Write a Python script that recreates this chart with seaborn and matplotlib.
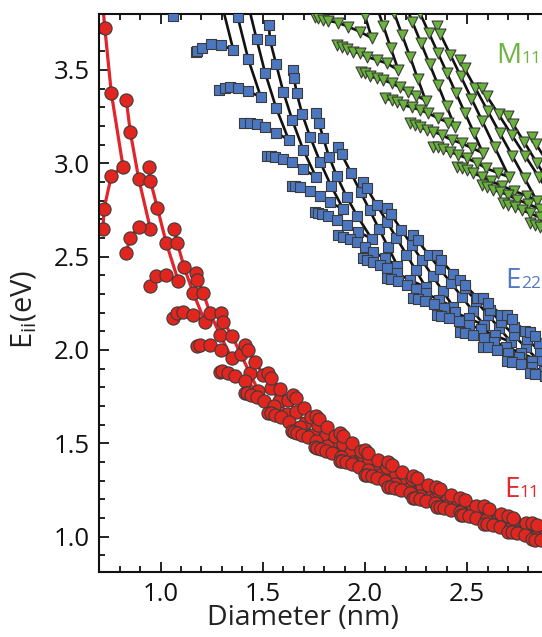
import numpy as np
import pandas as pd
import matplotlib
matplotlib.use("Agg")
import matplotlib.pyplot as plt
import seaborn as sns
from matplotlib.ticker import MultipleLocator

# ---------------------------------------------------------------------------
# Optical transition energies E_ii (eV) versus tube diameter (nm).
# Each family is a "V": an upper branch running from its small-diameter end
# down to the near-armchair vertex, and a lower branch from the same
# small-diameter end along the bottom to that vertex.
# ---------------------------------------------------------------------------

# --- E11 (red circles) -----------------------------------------------------
e11_upper_d = [
    [0.700, 0.727, 0.759, 0.816],
    [0.832, 0.852, 0.893, 0.950],
    [0.942, 0.950, 0.984, 1.028, 1.086],
    [1.066, 1.082, 1.114, 1.160, 1.217],
    [1.175, 1.180, 1.209, 1.242, 1.291, 1.348],
    [1.296, 1.307, 1.351, 1.392, 1.436, 1.478],
    [1.413, 1.427, 1.464, 1.503, 1.540, 1.579, 1.618],
    [1.527, 1.542, 1.582, 1.624, 1.664, 1.706, 1.748],
    [1.649, 1.663, 1.700, 1.736, 1.771, 1.808, 1.842, 1.879],
    [1.760, 1.775, 1.815, 1.855, 1.892, 1.932, 1.969, 2.009],
    [1.878, 1.894, 1.938, 1.981, 2.022, 2.066, 2.106, 2.150],
    [2.000, 2.017, 2.064, 2.110, 2.154, 2.200, 2.244, 2.290],
    [2.114, 2.132, 2.182, 2.231, 2.277, 2.326, 2.372, 2.421],
    [2.236, 2.255, 2.307, 2.358, 2.406, 2.457, 2.506, 2.557],
    [2.347, 2.368, 2.423, 2.478, 2.530, 2.585, 2.637, 2.692],
    [2.465, 2.487, 2.544, 2.602, 2.656, 2.714, 2.768, 2.826],
    [2.584, 2.607, 2.667, 2.727, 2.783, 2.843, 2.899, 2.959],
    [2.701, 2.724, 2.787, 2.849, 2.907, 2.969],
    [2.816, 2.840, 2.905, 2.970],
]
e11_upper_E = [
    [4.050, 3.725, 3.375, 2.982],
    [3.339, 3.166, 2.916, 2.648],
    [2.982, 2.907, 2.761, 2.572, 2.371],
    [2.648, 2.572, 2.446, 2.304, 2.152],
    [2.411, 2.375, 2.304, 2.197, 2.081, 1.956],
    [2.197, 2.152, 2.072, 1.977, 1.877, 1.782],
    [2.027, 2.001, 1.935, 1.864, 1.798, 1.727, 1.657],
    [1.875, 1.852, 1.792, 1.729, 1.670, 1.607, 1.544],
    [1.759, 1.741, 1.691, 1.642, 1.596, 1.546, 1.500, 1.451],
    [1.647, 1.630, 1.585, 1.540, 1.498, 1.452, 1.410, 1.365],
    [1.557, 1.541, 1.499, 1.457, 1.418, 1.376, 1.336, 1.294],
    [1.465, 1.450, 1.411, 1.372, 1.336, 1.297, 1.260, 1.221],
    [1.397, 1.383, 1.345, 1.308, 1.272, 1.235, 1.200, 1.162],
    [1.325, 1.312, 1.277, 1.242, 1.209, 1.175, 1.142, 1.107],
    [1.268, 1.255, 1.222, 1.189, 1.157, 1.124, 1.092, 1.059],
    [1.209, 1.197, 1.166, 1.135, 1.106, 1.075, 1.046, 1.015],
    [1.161, 1.150, 1.120, 1.090, 1.061, 1.031, 1.003, 0.973],
    [1.111, 1.100, 1.071, 1.042, 1.015, 0.986],
    [1.075, 1.064, 1.034, 1.005],
]
e11_lower_d = [
    [0.718, 0.723, 0.759, 0.816],
    [0.832, 0.849, 0.893, 0.950],
    [0.947, 0.979, 1.028, 1.086],
    [1.062, 1.079, 1.111, 1.160, 1.217],
    [1.177, 1.193, 1.242, 1.296, 1.348],
    [1.291, 1.302, 1.328, 1.366, 1.414, 1.478],
    [1.413, 1.423, 1.442, 1.470, 1.507, 1.557, 1.618],
    [1.527, 1.538, 1.558, 1.589, 1.629, 1.682, 1.748],
    [1.641, 1.651, 1.667, 1.691, 1.722, 1.760, 1.812, 1.879],
    [1.755, 1.765, 1.783, 1.808, 1.841, 1.882, 1.938, 2.009],
    [1.878, 1.889, 1.908, 1.935, 1.970, 2.014, 2.074, 2.150],
    [2.000, 2.012, 2.032, 2.061, 2.099, 2.145, 2.209, 2.290],
    [2.114, 2.126, 2.148, 2.178, 2.218, 2.268, 2.335, 2.421],
    [2.233, 2.246, 2.269, 2.301, 2.343, 2.395, 2.466, 2.557],
    [2.351, 2.365, 2.389, 2.423, 2.467, 2.522, 2.597, 2.692],
    [2.468, 2.482, 2.507, 2.543, 2.590, 2.647, 2.726, 2.826],
    [2.584, 2.599, 2.625, 2.663, 2.712, 2.772, 2.854, 2.959],
    [2.701, 2.717, 2.744, 2.783, 2.833, 2.896, 2.981],
    [2.816, 2.832, 2.860, 2.900, 2.952],
]
e11_lower_E = [
    [2.648, 2.755, 2.934, 2.982],
    [2.518, 2.600, 2.661, 2.648],
    [2.345, 2.398, 2.404, 2.371],
    [2.170, 2.197, 2.205, 2.188, 2.152],
    [2.022, 2.027, 2.027, 2.000, 1.956],
    [1.884, 1.886, 1.879, 1.862, 1.831, 1.782],
    [1.768, 1.768, 1.761, 1.748, 1.726, 1.697, 1.657],
    [1.661, 1.660, 1.653, 1.639, 1.615, 1.585, 1.544],
    [1.563, 1.561, 1.555, 1.545, 1.531, 1.511, 1.486, 1.451],
    [1.479, 1.477, 1.471, 1.461, 1.446, 1.427, 1.400, 1.365],
    [1.407, 1.405, 1.399, 1.389, 1.374, 1.355, 1.329, 1.294],
    [1.331, 1.329, 1.323, 1.313, 1.299, 1.280, 1.255, 1.221],
    [1.265, 1.263, 1.258, 1.249, 1.235, 1.218, 1.194, 1.162],
    [1.209, 1.207, 1.202, 1.193, 1.179, 1.162, 1.139, 1.107],
    [1.158, 1.156, 1.151, 1.142, 1.129, 1.112, 1.090, 1.059],
    [1.115, 1.113, 1.108, 1.099, 1.086, 1.069, 1.046, 1.015],
    [1.067, 1.065, 1.060, 1.052, 1.040, 1.024, 1.002, 0.973],
    [1.024, 1.022, 1.017, 1.009, 0.997, 0.981, 0.959],
    [0.986, 0.984, 0.979, 0.971, 0.959],
]

# --- E22 (blue squares) ----------------------------------------------------
e22_upper_d = [
    [],
    [1.250, 1.300, 1.356],
    [1.325, 1.377, 1.429, 1.491],
    [1.398, 1.430, 1.470, 1.511, 1.565, 1.627],
    [1.530, 1.535, 1.565, 1.600, 1.644, 1.698, 1.760],
    [1.646, 1.653, 1.666, 1.693, 1.731, 1.780, 1.834, 1.894],
    [1.759, 1.775, 1.796, 1.824, 1.862, 1.910, 1.962, 2.033],
    [1.869, 1.886, 1.933, 1.979, 2.023, 2.069, 2.113, 2.159],
    [1.990, 2.008, 2.058, 2.107, 2.153, 2.203, 2.249, 2.298],
    [2.106, 2.126, 2.178, 2.230, 2.279, 2.331, 2.380, 2.432],
    [2.236, 2.257, 2.312, 2.368, 2.420, 2.475, 2.527, 2.583],
    [2.351, 2.373, 2.431, 2.489, 2.544, 2.602, 2.657, 2.715],
    [2.465, 2.488, 2.549, 2.610, 2.667, 2.729, 2.786, 2.847],
    [2.579, 2.603, 2.667, 2.731, 2.791, 2.855, 2.915, 2.979],
    [2.693, 2.718, 2.785, 2.851, 2.914, 2.981],
    [2.807, 2.833, 2.902, 2.971],
]
e22_upper_E = [
    [],
    [4.100, 3.850, 3.606],
    [4.000, 3.785, 3.557, 3.353],
    [4.010, 3.843, 3.664, 3.486, 3.298, 3.125],
    [3.741, 3.661, 3.532, 3.384, 3.232, 3.072, 2.927],
    [3.500, 3.456, 3.375, 3.263, 3.143, 3.009, 2.879, 2.754],
    [3.271, 3.215, 3.134, 3.036, 2.932, 2.821, 2.718, 2.595],
    [3.086, 3.048, 2.946, 2.844, 2.749, 2.647, 2.552, 2.450],
    [2.902, 2.868, 2.777, 2.687, 2.602, 2.511, 2.426, 2.335],
    [2.761, 2.729, 2.644, 2.560, 2.480, 2.395, 2.316, 2.231],
    [2.616, 2.587, 2.510, 2.432, 2.360, 2.283, 2.210, 2.133],
    [2.509, 2.481, 2.406, 2.332, 2.261, 2.187, 2.117, 2.042],
    [2.375, 2.349, 2.280, 2.212, 2.147, 2.078, 2.014, 1.945],
    [2.277, 2.252, 2.187, 2.121, 2.060, 1.994, 1.933, 1.867],
    [2.188, 2.164, 2.101, 2.038, 1.979, 1.916],
    [2.098, 2.075, 2.014, 1.953],
]
e22_lower_d = [
    [1.059, 1.066, 1.092, 1.130, 1.170, 1.225],
    [1.172, 1.178, 1.204, 1.245, 1.294, 1.356],
    [1.288, 1.313, 1.340, 1.379, 1.428, 1.491],
    [1.410, 1.437, 1.472, 1.513, 1.565, 1.627],
    [1.523, 1.540, 1.560, 1.599, 1.643, 1.697, 1.760],
    [1.641, 1.658, 1.682, 1.731, 1.780, 1.829, 1.894],
    [1.755, 1.770, 1.788, 1.820, 1.862, 1.910, 1.967, 2.033],
    [1.869, 1.894, 1.927, 1.959, 2.000, 2.041, 2.098, 2.159],
    [1.990, 2.008, 2.041, 2.073, 2.106, 2.155, 2.220, 2.298],
    [2.106, 2.126, 2.161, 2.204, 2.249, 2.298, 2.360, 2.432],
    [2.236, 2.257, 2.295, 2.340, 2.389, 2.441, 2.507, 2.583],
    [2.351, 2.373, 2.413, 2.460, 2.511, 2.566, 2.635, 2.715],
    [2.465, 2.488, 2.530, 2.580, 2.633, 2.690, 2.763, 2.847],
    [2.579, 2.603, 2.647, 2.699, 2.755, 2.815, 2.891, 2.979],
    [2.693, 2.718, 2.764, 2.818, 2.876, 2.939],
    [2.807, 2.833, 2.881, 2.937],
]
e22_lower_E = [
    [3.789, 3.840, 3.870, 3.890, 3.890, 3.870],
    [3.595, 3.602, 3.619, 3.641, 3.636, 3.606],
    [3.393, 3.404, 3.407, 3.404, 3.388, 3.353],
    [3.215, 3.215, 3.208, 3.195, 3.165, 3.125],
    [3.041, 3.039, 3.036, 3.023, 3.005, 2.970, 2.927],
    [2.879, 2.876, 2.871, 2.852, 2.825, 2.790, 2.754],
    [2.738, 2.734, 2.729, 2.718, 2.697, 2.670, 2.634, 2.595],
    [2.616, 2.607, 2.593, 2.577, 2.554, 2.524, 2.491, 2.450],
    [2.491, 2.482, 2.473, 2.455, 2.438, 2.411, 2.375, 2.335],
    [2.384, 2.379, 2.367, 2.350, 2.329, 2.303, 2.269, 2.231],
    [2.277, 2.272, 2.261, 2.245, 2.225, 2.201, 2.169, 2.133],
    [2.188, 2.183, 2.172, 2.156, 2.135, 2.111, 2.078, 2.042],
    [2.098, 2.093, 2.081, 2.064, 2.043, 2.017, 1.983, 1.945],
    [2.018, 2.013, 2.001, 1.985, 1.964, 1.938, 1.905, 1.867],
    [1.938, 1.933, 1.922, 1.906, 1.886, 1.862],
    [1.875, 1.870, 1.858, 1.841],
]

# --- M11 (green triangles) -------------------------------------------------
m11_upper_d = [
    [1.968, 2.000, 2.033],
    [2.053, 2.090, 2.126, 2.163],
    [2.103, 2.142, 2.181, 2.220, 2.258, 2.297],
    [2.191, 2.232, 2.274, 2.316, 2.357, 2.399, 2.440],
    [2.225, 2.269, 2.313, 2.357, 2.401, 2.445, 2.489, 2.533, 2.577],
    [2.351, 2.368, 2.418, 2.468, 2.521, 2.574, 2.634, 2.705],
    [2.465, 2.487, 2.540, 2.600, 2.660, 2.721, 2.781, 2.841],
    [2.571, 2.596, 2.654, 2.719, 2.785, 2.851, 2.917, 2.983],
    [2.700, 2.723, 2.779, 2.841, 2.905],
    [2.816, 2.838, 2.895],
]
m11_upper_E = [
    [3.910, 3.790, 3.671],
    [3.853, 3.736, 3.618, 3.500],
    [3.926, 3.808, 3.690, 3.572, 3.454, 3.336],
    [3.870, 3.757, 3.645, 3.532, 3.420, 3.307, 3.195],
    [3.912, 3.805, 3.698, 3.591, 3.484, 3.377, 3.270, 3.163, 3.055],
    [3.734, 3.694, 3.581, 3.468, 3.347, 3.226, 3.088, 2.927],
    [3.554, 3.508, 3.403, 3.282, 3.161, 3.040, 2.920, 2.798],
    [3.402, 3.360, 3.262, 3.150, 3.038, 2.926, 2.814, 2.702],
    [3.255, 3.213, 3.114, 3.002, 2.889],
    [3.143, 3.101, 3.002],
]
m11_lower_d = [
    [1.755, 1.771, 1.796, 1.820, 1.869, 1.918, 1.976, 2.033],
    [1.861, 1.886, 1.910, 1.943, 1.976, 2.008, 2.057, 2.106, 2.163],
    [1.980, 2.000, 2.024, 2.057, 2.090, 2.131, 2.171, 2.212, 2.252, 2.297],
    [2.098, 2.131, 2.155, 2.188, 2.229, 2.269, 2.310, 2.359, 2.408, 2.440],
    [2.220, 2.245, 2.269, 2.302, 2.334, 2.375, 2.424, 2.473, 2.523, 2.577],
    [2.334, 2.359, 2.383, 2.416, 2.457, 2.498, 2.547, 2.590, 2.651, 2.705],
    [2.449, 2.473, 2.498, 2.530, 2.571, 2.616, 2.670, 2.729, 2.793, 2.841],
    [2.571, 2.595, 2.628, 2.660, 2.700, 2.744, 2.798, 2.856, 2.920],
    [2.677, 2.701, 2.734, 2.767, 2.807, 2.856, 2.915],
    [2.807, 2.832, 2.856, 2.895],
]
m11_lower_E = [
    [3.785, 3.776, 3.767, 3.764, 3.753, 3.732, 3.705, 3.671],
    [3.634, 3.625, 3.611, 3.598, 3.589, 3.571, 3.554, 3.536, 3.500],
    [3.491, 3.482, 3.468, 3.455, 3.446, 3.429, 3.407, 3.384, 3.363, 3.336],
    [3.348, 3.339, 3.330, 3.312, 3.300, 3.286, 3.268, 3.241, 3.218, 3.195],
    [3.215, 3.205, 3.196, 3.179, 3.170, 3.152, 3.125, 3.107, 3.082, 3.055],
    [3.089, 3.086, 3.075, 3.062, 3.045, 3.027, 3.003, 2.975, 2.948, 2.927],
    [2.982, 2.973, 2.964, 2.947, 2.929, 2.905, 2.879, 2.852, 2.825, 2.798],
    [2.884, 2.875, 2.857, 2.848, 2.830, 2.806, 2.782, 2.755, 2.728],
    [2.786, 2.777, 2.768, 2.750, 2.732, 2.710, 2.686],
    [2.679, 2.670, 2.661, 2.649],
]


def band_frame(band, up_d, up_e, lo_d, lo_e):
    rows = []
    for fam, (ud, ue, ld, le) in enumerate(zip(up_d, up_e, lo_d, lo_e)):
        for branch, ds, es in (("upper", ud, ue), ("lower", ld, le)):
            for i, (d, e) in enumerate(zip(ds, es)):
                rows.append(dict(band=band, fam=fam, branch=branch, order=i,
                                 d=d, E=e, seg=f"{band}-{fam}-{branch}"))
    return pd.DataFrame(rows)


df = pd.concat([
    band_frame("E11", e11_upper_d, e11_upper_E, e11_lower_d, e11_lower_E),
    band_frame("E22", e22_upper_d, e22_upper_E, e22_lower_d, e22_lower_E),
    band_frame("M11", m11_upper_d, m11_upper_E, m11_lower_d, m11_lower_E),
], ignore_index=True)

style = {
    "E11": dict(line="#e3242b", lw=2.3, marker="o", s=90, fill="#e1261f"),
    "E22": dict(line="#111111", lw=1.9, marker="s", s=44, fill="#4b77c1"),
    "M11": dict(line="#111111", lw=1.9, marker="v", s=62, fill="#69b33b"),
}

sns.set_theme(style="ticks")
plt.rcParams["font.family"] = ["Open Sans", "DejaVu Sans"]
plt.rcParams["mathtext.fontset"] = "custom"
plt.rcParams["mathtext.rm"] = "Open Sans"
plt.rcParams["axes.linewidth"] = 1.5

fig = plt.figure(figsize=(5.42, 6.37), dpi=100)
ax = fig.add_axes([99.3 / 542, 65 / 637, 453.7 / 542, 558 / 637])

z = 1
for band in ["E11", "E22", "M11"]:
    st = style[band]
    sub = df[df["band"] == band]
    sns.lineplot(data=sub, x="d", y="E", units="seg", estimator=None,
                 sort=False, color=st["line"], lw=st["lw"], ax=ax,
                 legend=False, zorder=z)
    pts = sub.drop_duplicates(subset=["d", "E"])
    sns.scatterplot(data=pts, x="d", y="E", marker=st["marker"], s=st["s"],
                    color=st["fill"], edgecolor="#3b3b3b", linewidth=0.8,
                    ax=ax, legend=False, zorder=z + 1)
    z += 2

ax.set_xlim(0.70, 2.92)
ax.set_ylim(0.81, 3.80)
ax.xaxis.set_major_locator(MultipleLocator(0.5))
ax.xaxis.set_minor_locator(MultipleLocator(0.1))
ax.yaxis.set_major_locator(MultipleLocator(0.5))
ax.yaxis.set_minor_locator(MultipleLocator(0.1))
ax.tick_params(which="both", direction="in", top=True, right=False,
               width=1.3, colors="#111111", labelsize=18.5, pad=7)
ax.tick_params(which="major", length=7)
ax.tick_params(which="minor", length=4)
ax.spines["right"].set_visible(False)
for sp in ["left", "bottom", "top"]:
    ax.spines[sp].set_color("#111111")

ax.set_xlabel("Diameter (nm)", fontsize=20.5, color="#222222")
ax.xaxis.set_label_coords(0.449, -0.058)
ax.set_ylabel(r"E$_{\mathregular{ii}}$(eV)", fontsize=21, color="#222222")
ax.yaxis.set_label_coords(-0.132, 0.47)

# band labels at the right-hand side
labels = [
    ("M", "11", 496, 63, "#6cb43f"),
    ("E", "22", 505, 288, "#5279c2"),
    ("E", "11", 504, 497, "#e5262c"),
]
for big, small, px, py, col in labels:
    t = fig.text(px / 542, (637 - py) / 637, big, fontsize=20, color=col,
                 ha="left", va="baseline")
    fig.canvas.draw()
    bb = t.get_window_extent()
    fig.text((bb.x1 + 0.5) / 542, (637 - py) / 637, small, fontsize=12.5,
             color=col, ha="left", va="baseline")

fig.savefig("out.png", dpi=100)
